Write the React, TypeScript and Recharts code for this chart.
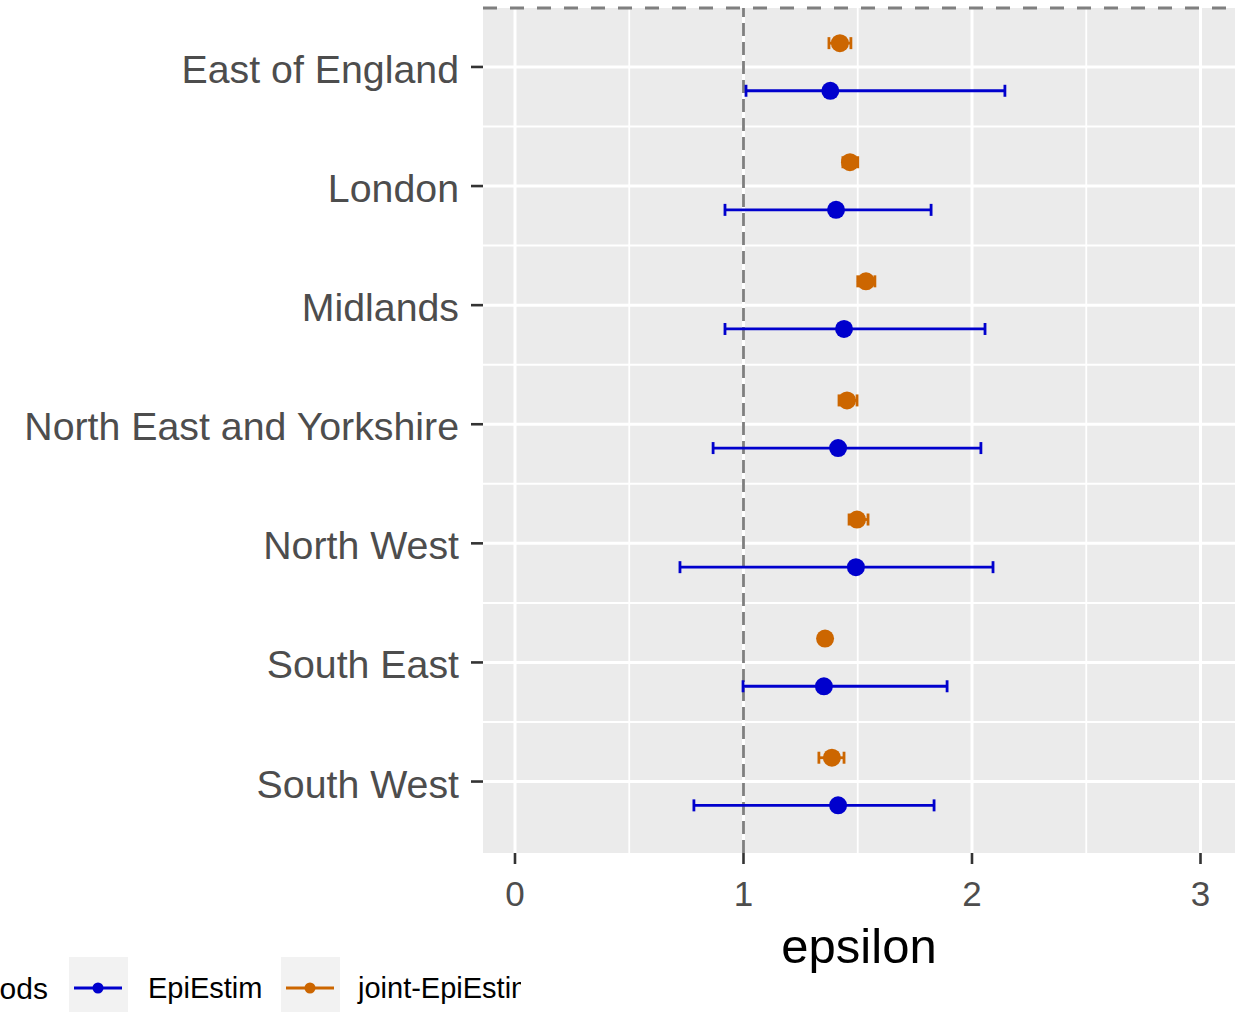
import {
  ScatterChart,
  Scatter,
  XAxis,
  YAxis,
  ErrorBar,
  ReferenceLine,
  ReferenceArea,
} from 'recharts';

const regions = [
  'East of England',
  'London',
  'Midlands',
  'North East and Yorkshire',
  'North West',
  'South East',
  'South West',
];

// EpiEstim estimates with 95% interval
const epiMean = [1.38, 1.405, 1.44, 1.414, 1.492, 1.352, 1.414];
const epiLow = [1.011, 0.919, 0.919, 0.867, 0.722, 0.998, 0.783];
const epiHigh = [2.144, 1.821, 2.057, 2.039, 2.092, 1.891, 1.834];

// joint-EpiEstim estimates with 95% interval
const jointMean = [1.422, 1.466, 1.536, 1.453, 1.497, 1.357, 1.387];
const jointLow = [1.374, 1.435, 1.5, 1.418, 1.462, 1.337, 1.33];
const jointHigh = [1.47, 1.5, 1.575, 1.497, 1.545, 1.378, 1.44];

const xTicks = [0, 1, 2, 3];
const xMinor = [0.5, 1.5, 2.5];
const yTicks = [0, 1, 2, 3, 4, 5, 6];
const ySeparators = [-0.5, 0.5, 1.5, 2.5, 3.5, 4.5, 5.5];

const BLUE = '#0000CD';
const ORANGE = '#CC6600';
const FONT = '"Liberation Sans", Arial, sans-serif';

const epiData = regions.map((r, i) => ({
  region: r,
  y: i + 0.2,
  x: epiMean[i],
  err: [epiMean[i] - epiLow[i], epiHigh[i] - epiMean[i]],
}));

const jointData = regions.map((r, i) => ({
  region: r,
  y: i - 0.2,
  x: jointMean[i],
  err: [jointMean[i] - jointLow[i], jointHigh[i] - jointMean[i]],
}));

const dot = (color: string) => (props: any) => (
  <circle cx={props.cx} cy={props.cy} r={9} fill={color} />
);

const YTick = (props: any) => {
  const { x, y, payload } = props;
  return (
    <text x={x} y={y} dy={16} textAnchor="end" fontSize={39.3} fill="#4D4D4D" fontFamily={FONT}>
      {regions[payload.value]}
    </text>
  );
};

const XTick = (props: any) => {
  const { x, y, payload } = props;
  return (
    <text x={x} y={y} dy={40} textAnchor="middle" fontSize={35} fill="#4D4D4D" fontFamily={FONT}>
      {payload.value}
    </text>
  );
};

const XLabel = (props: any) => {
  const vb = props.viewBox;
  return (
    <text x={vb.x + vb.width / 2} y={vb.y + 110} textAnchor="middle" fontSize={49} fill="#000" fontFamily={FONT}>
      epsilon
    </text>
  );
};

const legendItems = [
  { name: 'EpiEstim', color: BLUE, box: 69, text: 148 },
  { name: 'joint-EpiEstim', color: ORANGE, box: 281, text: 358 },
];

function LegendStrip() {
  return (
    <div
      style={{
        position: 'absolute',
        left: 0,
        top: 957,
        width: 521,
        height: 55,
        overflow: 'hidden',
        fontFamily: FONT,
        fontSize: 29,
        color: '#000',
      }}
    >
      <div style={{ position: 'absolute', right: 521 - 48, top: 15, fontSize: 30, whiteSpace: 'nowrap' }}>Methods</div>
      {legendItems.map((it) => (
        <div key={it.name}>
          <svg
            style={{ position: 'absolute', left: it.box, top: 0 }}
            width={59}
            height={55}
          >
            <rect x={0} y={0} width={59} height={55} fill="#F2F2F2" />
            <line x1={5} x2={53} y1={31} y2={31} stroke={it.color} strokeWidth={3} />
            <circle cx={29} cy={31} r={5.5} fill={it.color} />
          </svg>
          <div style={{ position: 'absolute', left: it.text, top: 15, whiteSpace: 'nowrap' }}>{it.name}</div>
        </div>
      ))}
    </div>
  );
}

export default function App() {
  return (
    <div
      style={{
        position: 'absolute',
        left: 0,
        top: 0,
        width: 1235,
        height: 1012,
        overflow: 'hidden',
        background: '#fff',
      }}
    >
      <ScatterChart width={1235} height={1012} margin={{ top: 8, right: 0, bottom: 0, left: 0 }}>
        <XAxis
          type="number"
          dataKey="x"
          domain={[-0.14, 3.151]}
          allowDataOverflow
          ticks={xTicks}
          axisLine={false}
          tickSize={11}
          tickLine={{ stroke: '#333', strokeWidth: 2.6 }}
          tick={<XTick />}
          height={159}
          label={<XLabel />}
        />
        <YAxis
          type="number"
          dataKey="y"
          domain={[-0.495, 6.6]}
          allowDataOverflow
          reversed
          ticks={yTicks}
          interval={0}
          axisLine={false}
          tickSize={12}
          tickMargin={12}
          tickLine={{ stroke: '#333', strokeWidth: 2.6 }}
          tick={<YTick />}
          width={483}
        />
        <ReferenceArea x1={-0.14} x2={3.151} y1={-0.495} y2={6.6} fill="#EBEBEB" fillOpacity={1} stroke="none" />
        {xMinor.map((v) => (
          <ReferenceLine key={'xm' + v} x={v} stroke="#fff" strokeWidth={1.8} />
        ))}
        {ySeparators.map((v) => (
          <ReferenceLine key={'ys' + v} y={v} stroke="#fff" strokeWidth={2} />
        ))}
        {xTicks.map((v) => (
          <ReferenceLine key={'x' + v} x={v} stroke="#fff" strokeWidth={3} />
        ))}
        {yTicks.map((v) => (
          <ReferenceLine key={'y' + v} y={v} stroke="#fff" strokeWidth={3} />
        ))}
        <ReferenceLine y={-0.495} stroke="#7F7F7F" strokeWidth={2.8} strokeDasharray="14 13" />
        <ReferenceLine x={1} stroke="#7F7F7F" strokeWidth={2.8} strokeDasharray="13 6" />
        <Scatter data={epiData} fill={BLUE} shape={dot(BLUE)} isAnimationActive={false}>
          <ErrorBar dataKey="err" direction="x" width={6} stroke={BLUE} strokeWidth={2.8} isAnimationActive={false} />
        </Scatter>
        <Scatter data={jointData} fill={ORANGE} shape={dot(ORANGE)} isAnimationActive={false}>
          <ErrorBar dataKey="err" direction="x" width={6} stroke={ORANGE} strokeWidth={2.8} isAnimationActive={false} />
        </Scatter>
      </ScatterChart>
      <LegendStrip />
    </div>
  );
}
